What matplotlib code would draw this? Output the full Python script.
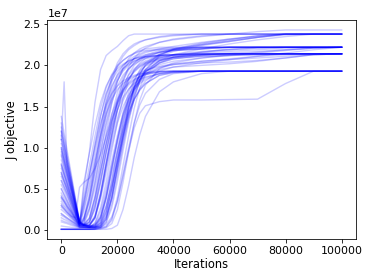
import numpy as np
import matplotlib
matplotlib.use("Agg")
import matplotlib.pyplot as plt

# iteration grid (shared by all runs)
iterations = [0, 1000, 2000, 3500, 5000, 6500, 8000,
              10000, 12000, 14000, 16000, 18000, 20000, 22000, 24000, 26000, 28000, 30000,
              35000, 40000, 50000, 60000, 70000, 80000, 90000, 100000]

# J objective per run (in units of 1e6)
run01 = [5, 4.3, 3.6, 2.6, 1.6, 0.6, 5, 9.5, 15.5, 19.5, 21.2, 21.8, 22.3, 23.0, 23.6, 23.8, 23.8, 23.8, 23.8, 23.8, 23.8, 23.8, 23.8, 23.8, 23.8, 23.8]
run02 = [8, 6.9, 5.8, 4.1, 2.5, 0.8, 0.6, 1.4, 4.1, 8.0, 11.8, 15.4, 18.0, 19.7, 20.8, 21.5, 22.0, 22.3, 22.8, 23.1, 23.5, 23.8, 23.8, 23.8, 23.8, 23.8]
run03 = [2, 1.75, 1.5, 1.15, 0.8, 0.4, 0.4, 0.35, 0.5, 1.2, 3.0, 5.4, 8.2, 11.2, 14.0, 16.4, 18.2, 19.5, 21.2, 22.0, 22.7, 23.2, 23.5, 23.8, 23.8, 23.8]
run04 = [10, 8.6, 7.2, 5.1, 3.0, 0.9, 0.6, 0.5, 0.45, 0.35, 0.9, 2.7, 5.9, 9.6, 13.1, 16.0, 18.1, 19.45, 21.1, 21.7, 22.4, 22.9, 23.4, 23.8, 23.8, 23.8]
run05 = [12, 10.3, 8.6, 6.1, 3.5, 1.0, 1.5, 4.3, 8.3, 12.2, 15.9, 18.5, 20.3, 21.4, 22.1, 22.6, 22.9, 23.1, 23.4, 23.6, 23.8, 23.8, 23.8, 23.8, 23.8, 23.8]
run06 = [0.1, 0.1, 0.1, 0.1, 0.1, 0.1, 0.1, 0.1, 0.15, 0.4, 1.3, 3.8, 7.5, 11.2, 14.7, 17.3, 19.0, 20.1, 21.3, 21.9, 22.5, 22.9, 23.4, 23.8, 23.8, 23.8]
run07 = [6, 5.2, 4.4, 3.1, 1.9, 0.7, 0.6, 0.35, 0.9, 2.7, 5.9, 9.6, 13.1, 16.0, 18.1, 19.45, 20.3, 20.85, 21.6, 22.0, 22.6, 23.1, 23.6, 23.8, 23.8, 23.8]
run08 = [4, 3.5, 2.9, 2.2, 1.4, 0.6, 0.5, 0.6, 1.6, 4.4, 8.2, 12.0, 15.5, 18.1, 19.8, 20.9, 21.6, 22.1, 22.8, 23.2, 23.6, 23.8, 24.1, 24.3, 24.3, 24.3]
run09 = [11, 18, 8, 5.6, 3.2, 0.9, 4.0, 7.8, 11.4, 14.8, 17.3, 18.9, 20, 20.6, 21.1, 21.4, 21.7, 21.8, 22.0, 22.1, 22.2, 22.2, 22.2, 22.2, 22.2, 22.2]
run10 = [13.8, 11.8, 9.8, 6.9, 3.9, 1.0, 0.7, 0.5, 1.4, 4, 7.8, 11.4, 14.8, 17.3, 18.9, 20, 20.6, 21.1, 21.6, 21.8, 22.0, 22.2, 22.2, 22.2, 22.2, 22.2]
run11 = [3, 2.6, 2.2, 1.65, 1.1, 0.5, 0.45, 0.4, 0.6, 1.6, 4.2, 7.6, 10.9, 13.9, 16.2, 17.7, 18.7, 19.3, 20.1, 20.5, 20.9, 21.2, 21.5, 21.8, 22.1, 22.2]
run12 = [7, 6, 5.1, 3.6, 2.2, 0.8, 1.4, 4, 7.8, 11.4, 14.8, 17.3, 18.9, 20, 20.6, 21.1, 21.4, 21.7, 21.9, 22.0, 22.2, 22.2, 22.2, 22.2, 22.2, 22.2]
run13 = [1, 0.9, 0.8, 0.6, 0.45, 0.3, 0.3, 0.3, 0.3, 0.45, 1.4, 4, 7.8, 11.4, 14.8, 17.3, 18.9, 20, 20.9, 21.3, 21.7, 21.9, 22.1, 22.2, 22.2, 22.2]
run14 = [11, 9.4, 7.9, 5.5, 3.2, 0.9, 3.2, 6.8, 10.5, 13.9, 16.5, 18.2, 19.3, 20.0, 20.5, 20.8, 21.0, 21.1, 21.2, 21.3, 21.5, 21.7, 21.9, 22.1, 22.2, 22.2]
run15 = [0.1, 0.1, 0.1, 0.1, 0.1, 0.1, 0.1, 0.1, 0.1, 0.15, 0.3, 0.8, 2.5, 5.8, 9.5, 13.0, 15.8, 17.6, 19.6, 20.3, 20.9, 21.3, 21.6, 21.9, 22.1, 22.2]
run16 = [4.5, 3.9, 3.3, 2.4, 1.5, 0.6, 2.6, 5.7, 9.3, 12.7, 15.5, 17.5, 18.8, 19.6, 20.15, 20.55, 20.8, 20.95, 21.2, 21.3, 21.4, 21.4, 21.4, 21.4, 21.4, 21.4]
run17 = [9.5, 8.2, 6.8, 4.9, 2.9, 0.9, 0.6, 0.9, 2.6, 5.7, 9.3, 12.7, 15.5, 17.5, 18.8, 19.6, 20.15, 20.55, 21.0, 21.2, 21.3, 21.4, 21.4, 21.4, 21.4, 21.4]
run18 = [2.5, 2.2, 1.9, 1.4, 0.9, 0.45, 0.4, 0.35, 0.3, 0.45, 1.3, 3.9, 7.5, 11, 14.3, 16.7, 18.3, 19.3, 20.55, 21.0, 21.3, 21.4, 21.4, 21.4, 21.4, 21.4]
run19 = [7.5, 6.5, 5.4, 3.9, 2.3, 0.8, 0.6, 0.5, 0.6, 1.5, 4.0, 7.3, 10.5, 13.4, 15.6, 17.1, 18.1, 18.8, 19.7, 20.1, 20.5, 20.8, 21.1, 21.3, 21.4, 21.4]
run20 = [12.5, 10.7, 8.9, 6.3, 3.6, 1.0, 0.9, 2.6, 5.7, 9.3, 12.7, 15.5, 17.5, 18.8, 19.6, 20.15, 20.55, 20.8, 21.1, 21.25, 21.4, 21.4, 21.4, 21.4, 21.4, 21.4]
run21 = [0.1, 0.1, 0.1, 0.1, 0.1, 0.1, 0.1, 0.1, 0.2, 0.6, 2.0, 5.0, 8.8, 12.4, 15.2, 17.1, 18.4, 19.2, 20.3, 20.8, 21.1, 21.2, 21.3, 21.4, 21.4, 21.4]
run22 = [5.5, 4.8, 4, 2.9, 1.8, 0.7, 0.6, 0.6, 1.5, 4.2, 7.6, 10.8, 13.6, 15.7, 17.1, 18.0, 18.6, 19.0, 19.5, 19.8, 20.0, 20.2, 20.5, 20.9, 21.3, 21.4]
run23 = [6.5, 5.6, 4.7, 3.4, 2.1, 0.75, 2.3, 5.1, 8.4, 11.5, 14.1, 15.9, 17.05, 17.8, 18.3, 18.65, 18.9, 19.05, 19.25, 19.3, 19.3, 19.3, 19.3, 19.3, 19.3, 19.3]
run24 = [10.5, 9, 7.5, 5.3, 3.1, 0.9, 0.7, 2.3, 5.1, 8.4, 11.5, 14.1, 15.9, 17.05, 17.8, 18.3, 18.65, 18.9, 19.2, 19.3, 19.3, 19.3, 19.3, 19.3, 19.3, 19.3]
run25 = [1.5, 1.3, 1.15, 0.9, 0.6, 0.35, 0.35, 0.3, 0.3, 0.8, 2.3, 5.1, 8.4, 11.5, 14.1, 15.9, 17.05, 17.8, 18.8, 19.15, 19.3, 19.3, 19.3, 19.3, 19.3, 19.3]
run26 = [8.5, 7.3, 6.1, 4.4, 2.6, 0.85, 0.6, 0.35, 0.8, 2.3, 5.1, 8.4, 11.5, 14.1, 15.9, 17.05, 17.8, 18.3, 19.0, 19.25, 19.3, 19.3, 19.3, 19.3, 19.3, 19.3]
run27 = [3.5, 3, 2.6, 1.9, 1.2, 0.55, 0.5, 0.4, 0.6, 1.5, 3.8, 6.8, 9.6, 12.2, 14.3, 15.9, 17, 17.8, 18.8, 19.1, 19.3, 19.3, 19.3, 19.3, 19.3, 19.3]
run28 = [0.1, 0.1, 0.1, 0.1, 0.1, 0.1, 0.1, 0.1, 0.1, 0.1, 0.1, 0.2, 0.6, 2.5, 5.4, 8.8, 11.6, 13.8, 16.8, 18.0, 19.0, 19.3, 19.3, 19.3, 19.3, 19.3]
run29 = [0.1, 0.1, 0.1, 0.1, 0.1, 0.1, 0.1, 0.1, 0.15, 0.3, 0.7, 1.6, 3.5, 6.5, 9.6, 12.4, 14.2, 15.1, 15.6, 15.8, 15.8, 15.85, 15.9, 17.8, 19.3, 19.3]
run30 = [7, 6, 5.1, 3.6, 2.2, 0.75, 0.6, 0.5, 0.45, 1.3, 3.9, 7.5, 11, 14.3, 16.7, 18.3, 19.3, 19.9, 20.6, 20.9, 21.1, 21.2, 21.3, 21.4, 21.4, 21.4]
run31 = [2, 1.75, 1.5, 1.15, 0.8, 0.4, 0.35, 0.3, 0.35, 0.6, 1.6, 3.9, 7.2, 10.6, 13.6, 15.8, 17.2, 18.1, 19.3, 19.8, 20.3, 20.7, 21.1, 21.5, 21.9, 22.2]
run32 = [11.5, 9.9, 8.2, 5.8, 3.4, 0.95, 0.7, 0.6, 1.6, 4.3, 8.0, 11.4, 14.5, 16.8, 18.3, 19.3, 19.9, 20.3, 20.8, 21.0, 21.3, 21.5, 21.7, 21.9, 22.1, 22.2]
run33 = [4, 3.5, 2.9, 2.2, 1.4, 0.6, 0.5, 0.4, 0.4, 0.9, 2.7, 5.9, 9.6, 13.1, 16.0, 18.1, 19.45, 20.3, 21.4, 21.85, 22.0, 22.2, 22.2, 22.2, 22.2, 22.2]
run34 = [9, 7.7, 6.5, 4.6, 2.7, 0.85, 1.0, 2.7, 5.9, 9.6, 13.1, 16.0, 18.1, 19.45, 20.3, 20.85, 21.25, 21.55, 22.0, 22.3, 22.8, 23.2, 23.6, 23.8, 23.8, 23.8]
run35 = [3, 2.6, 2.2, 1.7, 1.5, 5.2, 5.8, 6.3, 7.5, 9.2, 11.3, 13.6, 15.6, 17.2, 18.4, 19.2, 19.8, 20.2, 20.7, 21.0, 21.3, 21.4, 21.4, 21.4, 21.4, 21.4]
run36 = [13, 11.2, 9.3, 6.5, 3.8, 1.0, 3.5, 6.8, 10, 13, 15.2, 16.6, 17.5, 18.1, 18.5, 18.8, 19.0, 19.1, 19.3, 19.3, 19.3, 19.3, 19.3, 19.3, 19.3, 19.3]
run37 = [0.5, 0.45, 0.4, 0.35, 0.3, 0.25, 0.3, 0.3, 0.4, 1.0, 2.8, 6.0, 9.4, 12.8, 15.5, 17.4, 18.7, 19.5, 20.5, 21.0, 21.3, 21.4, 21.4, 21.4, 21.4, 21.4]
run38 = [6, 5.2, 4.4, 3.1, 1.9, 0.7, 5.7, 9.3, 12.7, 15.5, 17.5, 18.8, 19.6, 20.15, 20.55, 20.8, 20.95, 21.05, 21.25, 21.3, 21.4, 21.4, 21.4, 21.4, 21.4, 21.4]
run39 = [8, 6.9, 5.8, 4.1, 2.5, 0.8, 3.0, 6.5, 10.2, 13.8, 16.6, 18.5, 19.8, 20.6, 21.1, 21.5, 21.8, 22.0, 22.2, 22.2, 22.2, 22.2, 22.2, 22.2, 22.2, 22.2]
run40 = [1.2, 1.05, 0.95, 0.75, 0.55, 0.35, 0.3, 0.3, 0.3, 0.3, 0.45, 1.4, 4, 7.8, 11.4, 14.8, 17.3, 18.9, 20.3, 21.0, 21.6, 21.9, 22.1, 22.2, 22.2, 22.2]
run41 = [10, 8.6, 7.2, 5.1, 3.0, 0.9, 0.7, 0.9, 2.7, 5.9, 9.6, 13.1, 16.0, 18.1, 19.45, 20.3, 20.85, 21.25, 21.8, 21.95, 22.1, 22.2, 22.2, 22.2, 22.2, 22.2]
run42 = [3.8, 3.3, 2.8, 2.0, 1.3, 0.55, 0.5, 1.0, 3.0, 6.2, 9.5, 12.4, 14.6, 16.1, 17.1, 17.8, 18.3, 18.6, 19.0, 19.2, 19.3, 19.3, 19.3, 19.3, 19.3, 19.3]
run43 = [5, 4.3, 3.6, 2.6, 1.6, 0.65, 0.6, 0.6, 1.8, 4.6, 8.2, 11.6, 14.6, 16.9, 18.4, 19.4, 20.0, 20.4, 20.9, 21.2, 21.6, 22.0, 22.2, 22.2, 22.2, 22.2]
run44 = [9.8, 8.4, 7.0, 5.0, 3.0, 0.9, 0.6, 0.5, 0.7, 1.8, 4.5, 7.9, 11.0, 13.8, 15.9, 17.3, 18.3, 19.0, 19.8, 20.1, 20.3, 20.4, 20.6, 20.9, 21.3, 21.4]
run45 = [0.1, 0.1, 0.1, 0.1, 0.1, 0.1, 0.1, 0.1, 0.1, 0.3, 1.0, 3.2, 6.6, 10.2, 13.6, 16.2, 18.0, 19.2, 20.6, 21.3, 22.0, 22.6, 23.1, 23.5, 23.8, 23.8]
run46 = [12, 10.3, 8.6, 6.1, 3.5, 1.0, 0.7, 0.6, 1.5, 3.8, 7.0, 10.2, 13.0, 15.0, 16.4, 17.4, 18.0, 18.5, 19.0, 19.2, 19.3, 19.3, 19.3, 19.3, 19.3, 19.3]
run47 = [2.8, 2.45, 2.1, 1.55, 1.0, 0.5, 1.2, 3.6, 7.2, 10.8, 14.2, 16.8, 18.5, 19.6, 20.3, 20.8, 21.1, 21.3, 21.6, 21.8, 22.0, 22.2, 22.2, 22.2, 22.2, 22.2]
run48 = [7.8, 6.7, 5.6, 4.0, 2.4, 0.8, 1.3, 3.8, 7.6, 11.5, 15.2, 18.0, 19.9, 21.1, 21.9, 22.4, 22.8, 23.1, 23.5, 23.7, 23.8, 23.8, 23.8, 23.8, 23.8, 23.8]
run49 = [4.2, 3.6, 3.1, 2.3, 1.4, 0.6, 0.5, 0.4, 0.4, 0.8, 2.2, 5.0, 8.6, 12.0, 14.9, 16.9, 18.3, 19.2, 20.3, 20.8, 21.2, 21.4, 21.4, 21.4, 21.4, 21.4]
run50 = [11, 9.5, 7.9, 5.6, 3.3, 0.95, 0.7, 1.5, 4.0, 7.3, 10.5, 13.3, 15.4, 16.9, 17.9, 18.6, 19.1, 19.4, 19.9, 20.2, 20.5, 20.7, 20.9, 21.1, 21.3, 21.4]
run51 = [0.1, 0.1, 0.1, 0.1, 0.1, 0.1, 0.1, 0.1, 0.1, 0.2, 0.4, 1.2, 3.5, 6.8, 10, 13, 15.2, 16.6, 18.3, 19.0, 19.3, 19.3, 19.3, 19.3, 19.3, 19.3]
run52 = [6.8, 5.9, 4.9, 3.5, 2.1, 0.75, 0.7, 1.4, 3.8, 7.2, 10.4, 13.2, 15.3, 16.7, 17.6, 18.2, 18.6, 18.9, 19.2, 19.3, 19.3, 19.3, 19.3, 19.3, 19.3, 19.3]
run53 = [3.2, 2.8, 2.4, 1.75, 1.1, 0.5, 0.6, 1.1, 3.3, 6.9, 10.6, 14.0, 16.7, 18.5, 19.6, 20.3, 20.8, 21.1, 21.6, 21.9, 22.2, 22.2, 22.2, 22.2, 22.2, 22.2]
run54 = [9.2, 7.9, 6.6, 4.7, 2.8, 0.85, 1.2, 3.4, 6.8, 10.4, 13.8, 16.4, 18.2, 19.3, 20.0, 20.5, 20.8, 21.0, 21.2, 21.3, 21.4, 21.4, 21.4, 21.4, 21.4, 21.4]
run55 = [1.8, 1.6, 1.35, 1.05, 0.7, 0.4, 0.35, 0.3, 0.35, 0.6, 1.7, 4.5, 8.2, 11.8, 15.0, 17.4, 19.0, 20.0, 21.3, 21.9, 22.5, 23.0, 23.4, 23.7, 23.8, 23.8]

runs = [run01, run02, run03, run04, run05, run06, run07, run08, run09, run10,
        run11, run12, run13, run14, run15, run16, run17, run18, run19, run20,
        run21, run22, run23, run24, run25, run26, run27, run28, run29, run30,
        run31, run32, run33, run34, run35, run36, run37, run38, run39, run40,
        run41, run42, run43, run44, run45, run46, run47, run48, run49, run50,
        run51, run52, run53, run54, run55]

fig = plt.figure(figsize=(374 / 72, 280 / 72), dpi=72)
ax = fig.add_axes([0.1265, 0.1454, 0.8245, 0.7832])

x = np.array(iterations, dtype=float)
for r in runs:
    if len(r) != len(iterations):
        continue
    ax.plot(x, np.array(r, dtype=float) * 1e6, color="blue", alpha=0.2, lw=1.4)

ax.set_xlabel("Iterations", fontsize=11.5, labelpad=2)
ax.set_ylabel("J objective", fontsize=11.5)
ax.tick_params(labelsize=11)
ax.yaxis.get_offset_text().set_fontsize(11)

fig.savefig("out.png", dpi=72)
